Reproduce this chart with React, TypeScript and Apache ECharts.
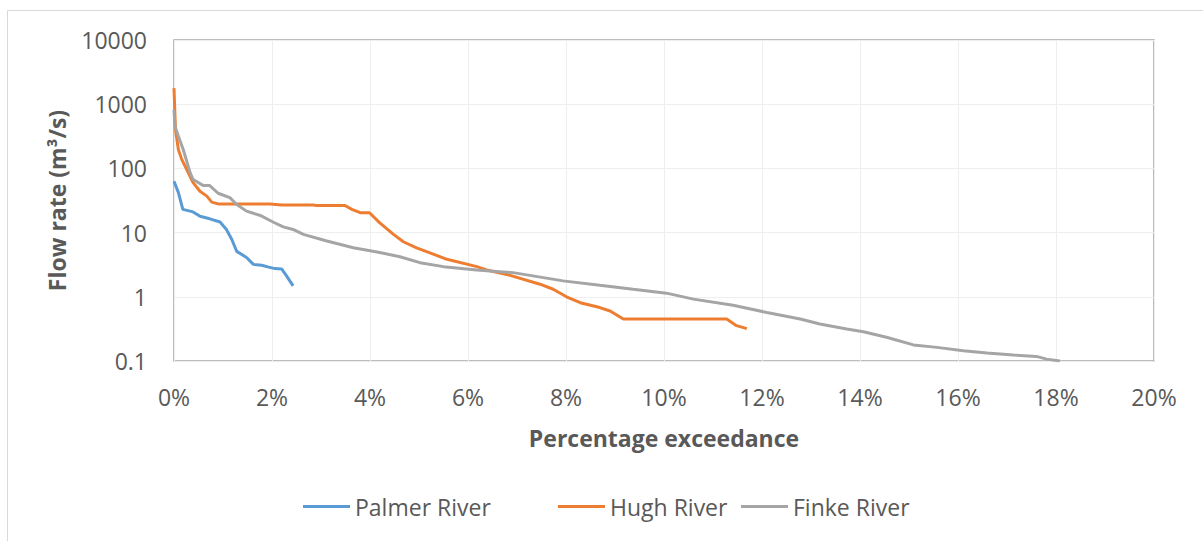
import React, { useEffect, useRef } from "react";
import * as echarts from "echarts";

const seriesNames = ["Palmer River", "Hugh River", "Finke River"];
const seriesColors = ["#5b9bd5", "#ed7d31", "#a5a5a5"];

const palmerX = [0, 0.09, 0.18, 0.39, 0.53, 0.73, 0.94, 1.07, 1.18, 1.28, 1.48, 1.62, 1.79, 1.93, 2.06, 2.2, 2.3, 2.43];
const palmerY = [63, 42, 23, 21, 18, 16.4, 14.6, 11.2, 7.8, 5.1, 4.1, 3.2, 3.1, 2.9, 2.75, 2.7, 2.1, 1.48];

const hughX = [0, 0.03, 0.09, 0.16, 0.26, 0.39, 0.53, 0.67, 0.77, 0.9, 1.96, 2.2, 2.84, 2.91, 3.49, 3.63, 3.8, 3.99, 4.2, 4.48, 4.68, 4.95, 5.57, 6.18, 6.38, 6.86, 7.47, 7.74, 8.01, 8.29, 8.69, 8.9, 9.17, 11.28, 11.48, 11.69];
const hughY = [1780, 400, 195, 137, 96, 60, 44, 37, 29.8, 28, 28, 27, 27, 26.5, 26.5, 23, 20.4, 20.4, 14.2, 9.4, 7.2, 5.8, 3.84, 2.95, 2.62, 2.16, 1.57, 1.31, 1.0, 0.81, 0.68, 0.6, 0.45, 0.45, 0.355, 0.32];

const finkeX = [0, 0.02, 0.09, 0.19, 0.33, 0.39, 0.6, 0.73, 0.9, 1.14, 1.28, 1.48, 1.76, 2.03, 2.23, 2.43, 2.64, 3.12, 3.66, 4.2, 4.61, 5.02, 5.5, 6.18, 6.92, 7.94, 8.69, 9.37, 10.05, 10.6, 11.41, 12.1, 12.78, 13.18, 13.73, 14.07, 14.54, 15.09, 15.57, 16.11, 16.59, 17.13, 17.6, 17.81, 18.08];
const finkeY = [818, 450, 316, 195, 85, 67, 54, 54, 41, 35, 27.4, 21.6, 18.5, 14.5, 12.3, 11.2, 9.4, 7.4, 5.8, 4.9, 4.2, 3.4, 2.95, 2.62, 2.38, 1.77, 1.51, 1.31, 1.14, 0.92, 0.74, 0.57, 0.45, 0.376, 0.316, 0.285, 0.234, 0.178, 0.163, 0.145, 0.133, 0.124, 0.118, 0.107, 0.1];

const xTitle = "Percentage exceedance";
const yTitle = "Flow rate (m³/s)";

const legendLefts = [303, 558, 741];

const FONT = "'Open Sans', sans-serif";
const TXT = "#595959";

function zip(xs: number[], ys: number[]) {
  return xs.map((x, i) => [x, ys[i]]);
}

export default function App() {
  const ref = useRef<HTMLDivElement>(null);
  useEffect(() => {
    if (!ref.current) return;
    const chart = echarts.init(ref.current, undefined, { renderer: "svg" });
    const data = [zip(palmerX, palmerY), zip(hughX, hughY), zip(finkeX, finkeY)];
    chart.setOption({
      animation: false,
      backgroundColor: "#ffffff",
      textStyle: { fontFamily: FONT },
      graphic: [
        {
          type: "rect",
          shape: { x: 7.5, y: 10.5, width: 1400, height: 800 },
          style: { fill: "none", stroke: "#d9d9d9", lineWidth: 1 },
          silent: true,
        },
      ],
      grid: {
        left: 174,
        top: 40,
        right: 49,
        bottom: 180,
        show: true,
        borderColor: "#a6a6a6",
        borderWidth: 1.5,
        backgroundColor: "transparent",
      },
      legend: seriesNames.map((name, i) => ({
        left: legendLefts[i],
        top: 495,
        padding: 0,
        icon: "rect",
        itemWidth: 47,
        itemHeight: 3,
        data: [name],
        textStyle: { color: TXT, fontSize: 23, fontFamily: FONT },
      })),
      xAxis: {
        type: "value",
        min: 0,
        max: 20,
        interval: 2,
        name: xTitle,
        nameLocation: "middle",
        nameGap: 65,
        nameTextStyle: { color: TXT, fontSize: 23, fontWeight: "bold", fontFamily: FONT },
        axisLine: { show: false },
        axisTick: { show: false },
        axisLabel: {
          color: TXT,
          fontSize: 23,
          fontFamily: FONT,
          margin: 24,
          formatter: (v: number) => Math.round(v) + "%",
        },
        splitLine: { show: true, lineStyle: { color: "#eeeeee", width: 1 } },
      },
      yAxis: {
        type: "log",
        logBase: 10,
        min: 0.1,
        max: 10000,
        name: yTitle,
        nameLocation: "middle",
        nameRotate: 90,
        nameGap: 106,
        nameTextStyle: { color: TXT, fontSize: 23, fontWeight: "bold", fontFamily: FONT },
        axisLine: { show: false },
        axisTick: { show: false },
        axisLabel: {
          color: TXT,
          fontSize: 23,
          fontFamily: FONT,
          margin: 27,
          formatter: (v: number) => String(Number(v.toPrecision(6))),
        },
        splitLine: { show: true, lineStyle: { color: "#eeeeee", width: 1 } },
      },
      series: seriesNames.map((name, i) => ({
        name,
        type: "line",
        data: data[i],
        showSymbol: false,
        symbol: "none",
        color: seriesColors[i],
        lineStyle: { color: seriesColors[i], width: 3 },
        clip: true,
      })),
    });
    return () => chart.dispose();
  }, []);
  return <div ref={ref} style={{ width: 1203, height: 541, position: "absolute", left: 0, top: 0 }} />;
}
